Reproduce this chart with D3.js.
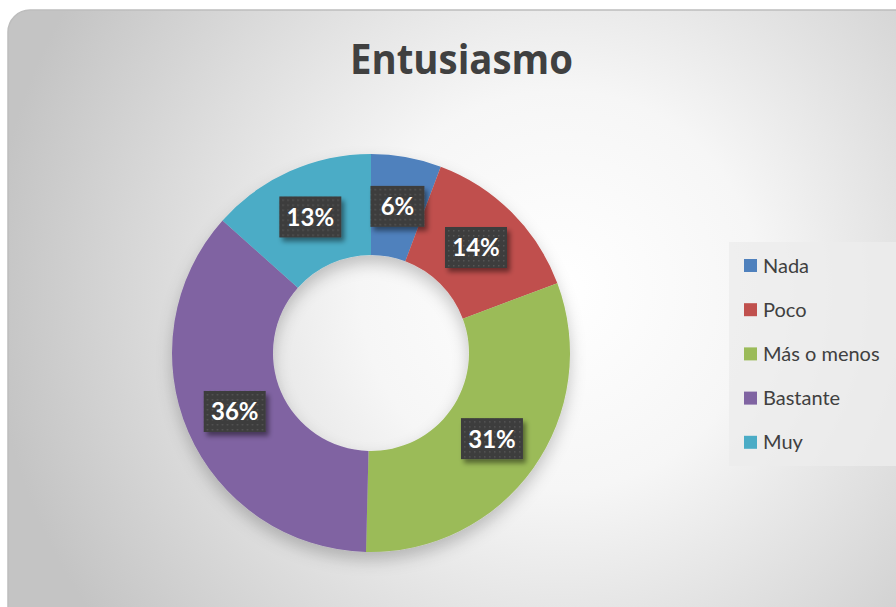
<!DOCTYPE html>
<html>
<head>
<meta charset="utf-8">
<script src="https://cdn.jsdelivr.net/npm/d3@7"></script>
<style>
  body { margin: 0; background: #fff; }
  svg { display: block; }
</style>
</head>
<body>
<div id="chart"></div>
<script>
const title = "Entusiasmo";
const categories = ["Nada", "Poco", "Más o menos", "Bastante", "Muy"];
const values = [5.7, 13.6, 31.1, 36.2, 13.4];
const colors = ["#4f81bd", "#c0504d", "#9bbb59", "#8064a2", "#4bacc6"];

const W = 896, H = 607;
const svg = d3.select("#chart").append("svg").attr("width", W).attr("height", H);
const defs = svg.append("defs");

// card background
const bg = defs.append("radialGradient").attr("id", "bg")
    .attr("gradientUnits", "userSpaceOnUse")
    .attr("cx", 560).attr("cy", 290).attr("r", 570);
bg.append("stop").attr("offset", "0").attr("stop-color", "#ffffff");
bg.append("stop").attr("offset", "0.35").attr("stop-color", "#f6f6f6");
bg.append("stop").attr("offset", "1").attr("stop-color", "#c4c4c4");

const shadow = defs.append("filter").attr("id", "shadow")
    .attr("x", "-20%").attr("y", "-20%").attr("width", "140%").attr("height", "140%");
shadow.append("feDropShadow").attr("dx", 0).attr("dy", 8).attr("stdDeviation", 8)
    .attr("flood-color", "#000").attr("flood-opacity", 0.22);

const boxShadow = defs.append("filter").attr("id", "boxShadow")
    .attr("x", "-30%").attr("y", "-30%").attr("width", "170%").attr("height", "170%");
boxShadow.append("feDropShadow").attr("dx", 3).attr("dy", 4).attr("stdDeviation", 2.5)
    .attr("flood-color", "#000").attr("flood-opacity", 0.45);

const dots = defs.append("pattern").attr("id", "dots")
    .attr("patternUnits", "userSpaceOnUse").attr("width", 5).attr("height", 5);
dots.append("rect").attr("width", 5).attr("height", 5).attr("fill", "#3d3d3d");
dots.append("rect").attr("x", 2).attr("y", 2).attr("width", 1.5).attr("height", 1.5).attr("fill", "#555");

svg.append("rect").attr("x", 8).attr("y", 10).attr("width", 920).attr("height", 640)
    .attr("rx", 22).attr("fill", "url(#bg)")
    .attr("stroke", "#bdbdbd").attr("stroke-width", 1.5);

svg.append("text").attr("x", 350).attr("y", 74)
    .attr("font-family", "'Open Sans', sans-serif").attr("font-weight", "bold")
    .attr("font-size", 42).attr("fill", "#404040")
    .attr("textLength", 223).attr("lengthAdjust", "spacingAndGlyphs")
    .text(title);

// donut
const cx = 371, cy = 353, rOuter = 199, rInner = 98;
const pie = d3.pie().sort(null).value(d => d)(values);
const arc = d3.arc().innerRadius(rInner).outerRadius(rOuter);
const g = svg.append("g").attr("transform", `translate(${cx},${cy})`);

g.append("g").attr("filter", "url(#shadow)")
  .selectAll("path").data(pie).join("path")
    .attr("d", arc)
    .attr("fill", (d, i) => colors[i]);

const labels = g.selectAll("g.lbl").data(pie).join("g")
    .attr("class", "lbl")
    .attr("transform", d => `translate(${arc.centroid(d)})`);
labels.append("rect")
    .attr("x", d => d.data < 10 ? -27 : -31).attr("y", -21)
    .attr("width", d => d.data < 10 ? 54 : 62).attr("height", 41)
    .attr("fill", "url(#dots)").attr("filter", "url(#boxShadow)");
labels.append("text")
    .attr("text-anchor", "middle").attr("dy", 8.5)
    .attr("font-family", "Lato, sans-serif").attr("font-weight", "bold")
    .attr("font-size", 24).attr("fill", "#fff")
    .text(d => Math.round(d.data) + "%");

// legend
const lg = svg.append("g");
lg.append("rect").attr("x", 729).attr("y", 242).attr("width", 180).attr("height", 224)
    .attr("fill", "#ececec").attr("opacity", 0.8);
const item = lg.selectAll("g.item").data(categories).join("g")
    .attr("class", "item")
    .attr("transform", (d, i) => `translate(744,${265 + i * 44.2})`);
item.append("rect").attr("x", 0).attr("y", -6).attr("width", 13).attr("height", 13)
    .attr("fill", (d, i) => colors[i]);
item.append("text").attr("x", 19).attr("y", 7.5)
    .attr("font-family", "Lato, sans-serif").attr("font-size", 20).attr("fill", "#404040")
    .text(d => d);
</script>
</body>
</html>
